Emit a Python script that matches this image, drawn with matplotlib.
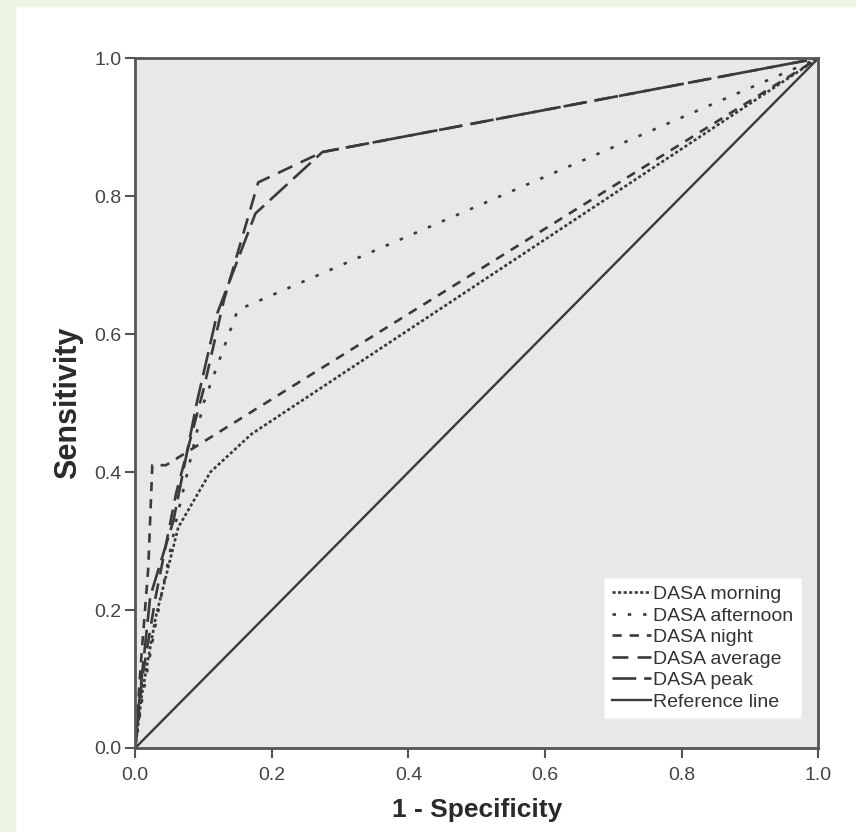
import matplotlib
matplotlib.use("Agg")
import matplotlib.pyplot as plt
from matplotlib.patches import Rectangle

plt.rcParams['font.family'] = ['Liberation Sans', 'DejaVu Sans']

# ROC curves
morning_x = [0, 0.01, 0.03, 0.063, 0.11, 0.17, 1.0]
morning_y = [0, 0.08, 0.19, 0.32, 0.40, 0.455, 1.0]
afternoon_x = [0, 0.01, 0.03, 0.06, 0.1, 0.15, 1.0]
afternoon_y = [0, 0.07, 0.18, 0.33, 0.50, 0.635, 1.0]
night_x = [0, 0.008, 0.019, 0.025, 0.045, 1.0]
night_y = [0, 0.12, 0.26, 0.41, 0.41, 1.0]
average_x = [0, 0.01, 0.03, 0.06, 0.1, 0.13, 0.18, 0.274, 1.0]
average_y = [0, 0.1, 0.22, 0.37, 0.52, 0.65, 0.82, 0.864, 1.0]
peak_x = [0, 0.005, 0.022, 0.056, 0.09, 0.12, 0.176, 0.274, 1.0]
peak_y = [0, 0.06, 0.22, 0.33, 0.5, 0.63, 0.775, 0.864, 1.0]
ref_x = [0, 1]
ref_y = [0, 1]

ticks = [0, 0.2, 0.4, 0.6, 0.8, 1.0]
tick_labels = ['0.0', '0.2', '0.4', '0.6', '0.8', '1.0']

fig = plt.figure(figsize=(8.56, 8.32), dpi=100)
fig.patches.append(Rectangle((0, 0.993), 1, 0.007, transform=fig.transFigure,
                             color='#eef4e2', zorder=0))
fig.patches.append(Rectangle((0, 0), 0.018, 1, transform=fig.transFigure,
                             color='#eef4e2', zorder=0))
ax = fig.add_axes([0.158, 0.101, 0.798, 0.829])
ax.set_facecolor('#e8e8e8')

c = '#3a3a3a'
ax.plot(morning_x, morning_y, color=c, lw=1.9, linestyle=(0, (1.2, 0.9)), label='DASA morning')
ax.plot(afternoon_x, afternoon_y, color=c, lw=1.9, linestyle=(0, (1.3, 4.5)), label='DASA afternoon')
ax.plot(night_x, night_y, color=c, lw=1.9, linestyle=(0, (3.5, 3)), label='DASA night')
ax.plot(average_x, average_y, color=c, lw=1.9, linestyle=(0, (6, 3.5)), label='DASA average')
ax.plot(peak_x, peak_y, color=c, lw=1.9, linestyle=(0, (9, 3)), label='DASA peak')
ax.plot(ref_x, ref_y, color=c, lw=1.7, label='Reference line')

ax.set_xlim(0, 1)
ax.set_ylim(0, 1)
ax.set_xticks(ticks)
ax.set_yticks(ticks)
ax.set_xticklabels(tick_labels)
ax.set_yticklabels(tick_labels)
ax.tick_params(direction='out', length=7, width=1.5, color='#555555',
               labelsize=14, labelcolor='#444444', pad=3)
ax.tick_params(axis='x', pad=7)
for s in ax.spines.values():
    s.set_color('#555555')
    s.set_linewidth(2)

ax.set_xlabel('1 - Specificity', fontsize=19, fontweight='bold', color='#2a2a2a', labelpad=10)
ax.set_ylabel('Sensitivity', fontsize=22, fontweight='bold', color='#2a2a2a', labelpad=8)

leg = ax.legend(loc='lower right', bbox_to_anchor=(0.974, 0.043), fontsize=14,
                frameon=True, fancybox=False, handlelength=2.0, handletextpad=0.1,
                labelspacing=0.2, borderpad=0.4, borderaxespad=0, labelcolor='#333333')
leg.get_frame().set_facecolor('white')
leg.get_frame().set_edgecolor('#f4f4f4')
leg.get_frame().set_alpha(1)

fig.savefig('out.png', dpi=100, facecolor='white')
